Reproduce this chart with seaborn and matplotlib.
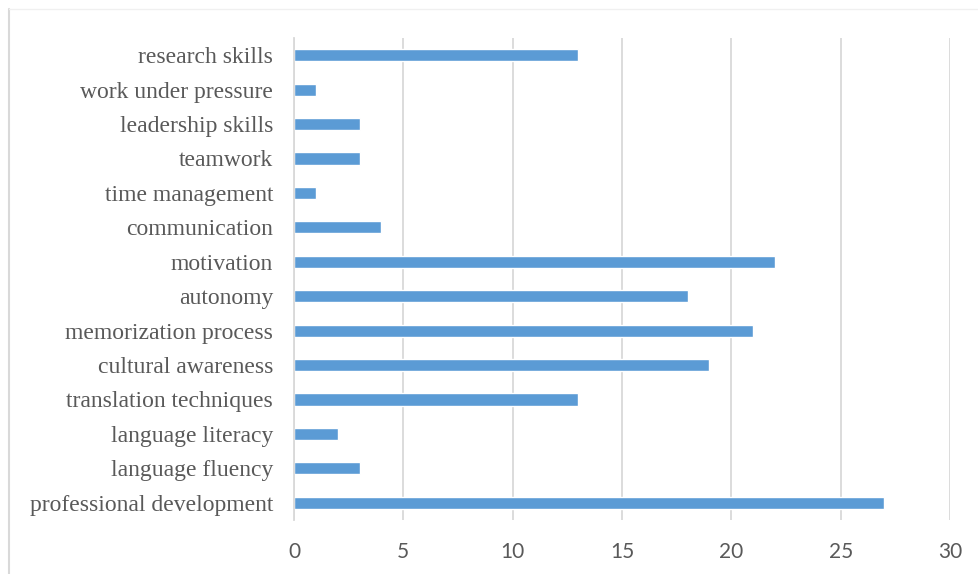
import pandas as pd
import seaborn as sns
import matplotlib.pyplot as plt
from matplotlib.lines import Line2D

# categories listed top to bottom, as in the chart
skills = ["research skills", "work under pressure", "leadership skills", "teamwork",
          "time management", "communication", "motivation", "autonomy",
          "memorization process", "cultural awareness", "translation techniques",
          "language literacy", "language fluency", "professional development"]
counts = [13, 1, 3, 3, 1, 4, 22, 18, 21, 19, 13, 2, 3, 27]
x_ticks = [0, 5, 10, 15, 20, 25, 30]

df = pd.DataFrame({"skill": skills, "count": counts})

sns.set_style("white")
fig = plt.figure(figsize=(9.79, 5.74), dpi=100)
ax = fig.add_axes([0.3003, 0.0941, 0.6701, 0.8397])

sns.barplot(data=df, x="count", y="skill", orient="h", color="#5B9BD5",
            saturation=1, width=0.35, ax=ax)

ax.set_xlim(0, 30)
ax.set_xticks(x_ticks)
ax.set_xlabel("")
ax.set_ylabel("")
ax.grid(axis="x", color="#D9D9D9", linewidth=1.3)
ax.set_axisbelow(True)
for side in ["top", "right", "bottom"]:
    ax.spines[side].set_visible(False)
ax.spines["left"].set_color("#D9D9D9")
ax.spines["left"].set_linewidth(1.3)
ax.tick_params(axis="both", length=0)
ax.tick_params(axis="y", pad=15)
ax.tick_params(axis="x", pad=16)

for lab in ax.get_yticklabels():
    lab.set_fontfamily("Liberation Serif")
    lab.set_fontsize(17)
    lab.set_color("#595959")
for lab in ax.get_xticklabels():
    lab.set_fontfamily("Lato")
    lab.set_fontsize(15)
    lab.set_color("#595959")

# light chart frame
fig.add_artist(Line2D([9 / 979, 9 / 979], [0, 1 - 9 / 574], transform=fig.transFigure,
                      color="#D9D9D9", linewidth=1.5))
fig.add_artist(Line2D([9 / 979, 1], [1 - 9 / 574, 1 - 9 / 574], transform=fig.transFigure,
                      color="#F0F0F0", linewidth=1))

plt.savefig("out.png", dpi=100)
